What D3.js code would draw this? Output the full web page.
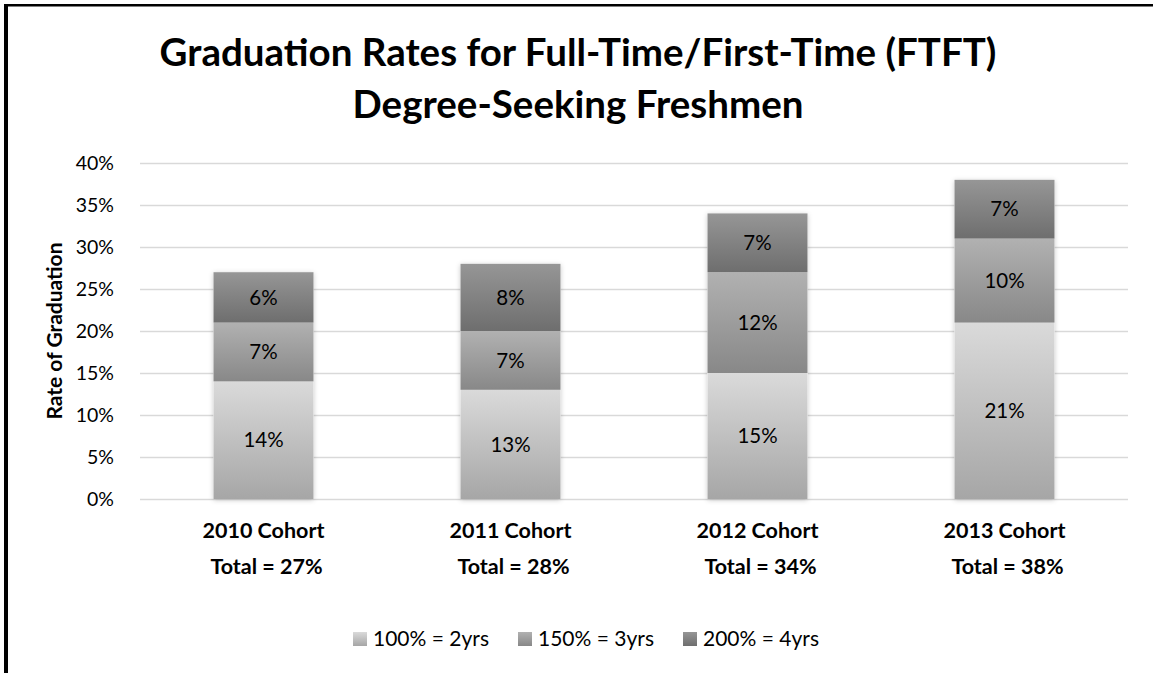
<html>
<head>
  <style>
    body { margin: 0; background: #fff; }
    svg text { font-family: Lato, "Open Sans", sans-serif; fill: #000; }
    svg .grid line { stroke: #d9d9d9; stroke-width: 1.5px; }
    svg .grid .domain { display: none; }
    svg .y-axis .domain, svg .y-axis line { display: none; }
    svg .y-axis text { font-size: 19.5px; }
    svg .seg-label { font-size: 20.5px; text-anchor: middle; }
    svg .cat-label { font-size: 21.5px; font-weight: bold; text-anchor: middle; }
  </style>
</head>
<body>
  <div id="chart"></div>
  <script src="https://d3js.org/d3.v7.min.js"></script>
  <script>
    var categories = ["2010 Cohort", "2011 Cohort", "2012 Cohort", "2013 Cohort"];
    var totals = ["Total = 27%", "Total = 28%", "Total = 34%", "Total = 38%"];
    var seriesNames = ["100% = 2yrs", "150% = 3yrs", "200% = 4yrs"];
    var rate2yrs = [14, 13, 15, 21];
    var rate3yrs = [7, 7, 12, 10];
    var rate4yrs = [6, 8, 7, 7];
    var yTicks = [0, 5, 10, 15, 20, 25, 30, 35, 40];

    var W = 1153, H = 673;
    var plot = { left: 140, right: 1128, top: 163, bottom: 499 };

    // gradient stops per series (top colour, bottom colour)
    var grads = [["#dadada", "#a6a6a6"], ["#b1b1b1", "#888888"], ["#969696", "#6e6e6e"]];

    var svg = d3.select("#chart").append("svg")
      .attr("width", W)
      .attr("height", H);

    var defs = svg.append("defs");
    grads.forEach(function (g, i) {
      var lg = defs.append("linearGradient")
        .attr("id", "grad" + i)
        .attr("x1", 0).attr("y1", 0).attr("x2", 0).attr("y2", 1);
      lg.append("stop").attr("offset", "0%").attr("stop-color", g[0]);
      lg.append("stop").attr("offset", "100%").attr("stop-color", g[1]);
    });
    var shadow = defs.append("filter").attr("id", "shadow")
      .attr("x", "-20%").attr("y", "-20%").attr("width", "140%").attr("height", "140%");
    shadow.append("feDropShadow")
      .attr("dx", 0).attr("dy", 1).attr("stdDeviation", 2.5)
      .attr("flood-color", "#000").attr("flood-opacity", 0.22);

    // frame (left and top edges visible)
    svg.append("rect").attr("x", 4).attr("y", 4).attr("width", 4).attr("height", H).attr("fill", "#000");
    svg.append("rect").attr("x", 4).attr("y", 4).attr("width", W).attr("height", 2.5).attr("fill", "#000");

    // title
    var title = svg.append("text")
      .attr("text-anchor", "middle")
      .style("font-size", "38.5px")
      .style("font-weight", "bold");
    title.append("tspan").attr("x", 578).attr("y", 66).text("Graduation Rates for Full-Time/First-Time (FTFT)");
    title.append("tspan").attr("x", 578).attr("y", 118).text("Degree-Seeking Freshmen");

    // scales
    var x = d3.scaleBand().domain(categories).range([plot.left, plot.right]).paddingInner(0.595).paddingOuter(0.2975);
    var y = d3.scaleLinear().domain([0, 40]).range([plot.bottom, plot.top]);

    // grid
    svg.append("g")
      .classed("grid", true)
      .attr("transform", "translate(" + plot.left + ",0)")
      .call(d3.axisLeft(y).tickValues(yTicks).tickSize(-(plot.right - plot.left)).tickFormat(""));

    // y axis labels
    svg.append("g")
      .classed("y-axis", true)
      .attr("transform", "translate(" + (plot.left - 23) + ",0)")
      .call(d3.axisLeft(y).tickValues(yTicks).tickSize(0).tickFormat(function (d) { return d + "%"; }));

    svg.append("text")
      .attr("transform", "translate(62," + ((plot.top + plot.bottom) / 2) + ") rotate(-90)")
      .attr("text-anchor", "middle")
      .style("font-size", "21px")
      .style("font-weight", "bold")
      .text("Rate of Graduation");

    // stacked bars
    var rows = categories.map(function (c, i) {
      return { cat: c, s0: rate2yrs[i], s1: rate3yrs[i], s2: rate4yrs[i] };
    });
    var stack = d3.stack().keys(["s0", "s1", "s2"])(rows);

    var barG = svg.append("g");
    barG.selectAll("rect.shadow")
      .data(rows)
      .enter().append("rect")
        .attr("x", function (d) { return x(d.cat); })
        .attr("y", function (d) { return y(d.s0 + d.s1 + d.s2); })
        .attr("width", x.bandwidth())
        .attr("height", function (d) { return y(0) - y(d.s0 + d.s1 + d.s2); })
        .attr("fill", "#fff")
        .attr("filter", "url(#shadow)");

    stack.forEach(function (layer, li) {
      var g = barG.append("g");
      g.selectAll("rect")
        .data(layer)
        .enter().append("rect")
          .attr("x", function (d) { return x(d.data.cat); })
          .attr("y", function (d) { return y(d[1]); })
          .attr("width", x.bandwidth())
          .attr("height", function (d) { return y(d[0]) - y(d[1]); })
          .attr("fill", "url(#grad" + li + ")");
      g.selectAll("text")
        .data(layer)
        .enter().append("text")
          .classed("seg-label", true)
          .attr("x", function (d) { return x(d.data.cat) + x.bandwidth() / 2; })
          .attr("y", function (d) { return (y(d[0]) + y(d[1])) / 2; })
          .attr("dy", "0.35em")
          .text(function (d) { return (d[1] - d[0]) + "%"; });
    });

    // category labels
    svg.selectAll("text.cat1")
      .data(categories)
      .enter().append("text")
        .classed("cat-label", true)
        .attr("x", function (d) { return x(d) + x.bandwidth() / 2; })
        .attr("y", 538)
        .text(function (d) { return d; });
    svg.selectAll("text.cat2")
      .data(totals)
      .enter().append("text")
        .classed("cat-label", true)
        .attr("x", function (d, i) { return x(categories[i]) + x.bandwidth() / 2 + 3; })
        .attr("y", 574)
        .text(function (d) { return d; });

    // legend
    var legendX = [353, 518, 683];
    var legend = svg.selectAll("g.legend")
      .data(seriesNames)
      .enter().append("g")
        .attr("transform", function (d, i) { return "translate(" + legendX[i] + ",632)"; });
    legend.append("rect")
      .attr("width", 14).attr("height", 14)
      .attr("fill", function (d, i) { return "url(#grad" + i + ")"; });
    legend.append("text")
      .attr("x", 20)
      .attr("y", 7)
      .attr("dy", "0.35em")
      .style("font-size", "21px")
      .text(function (d) { return d; });
  </script>
</body>
</html>
